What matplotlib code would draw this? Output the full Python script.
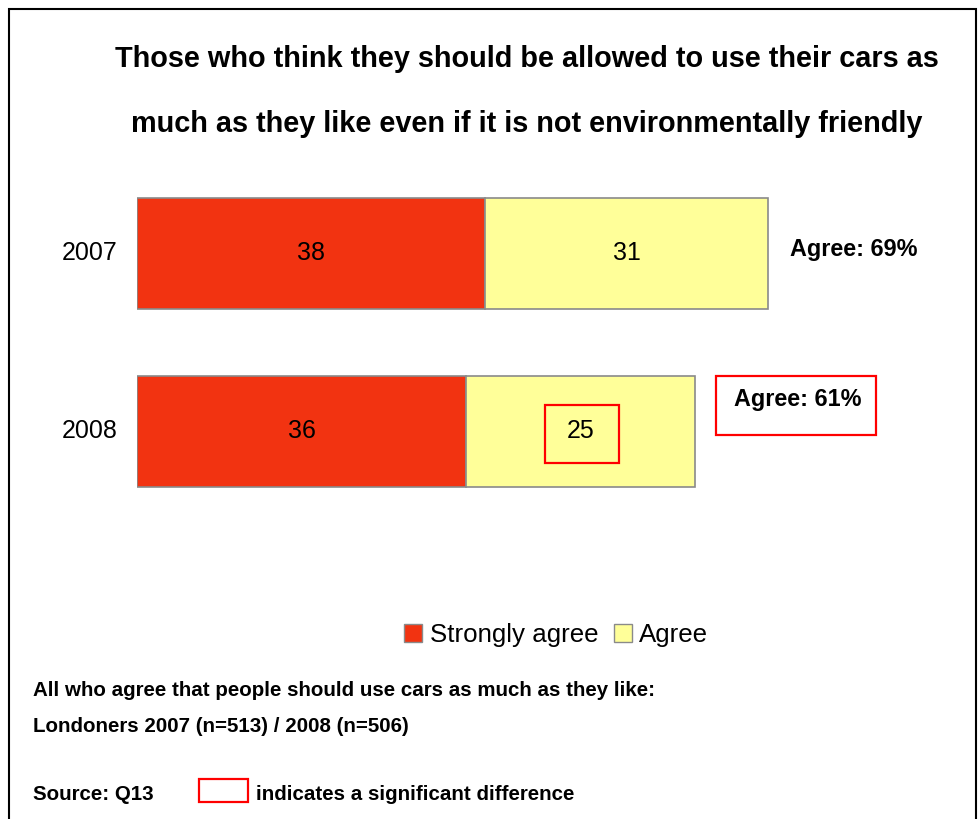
import matplotlib.pyplot as plt
from matplotlib import font_manager as fm
from matplotlib.patches import Rectangle, Patch
import os

# pick the regular-width Liberation Sans files explicitly (avoid the Narrow cut)
reg_path = bold_path = None
for p in fm.findSystemFonts():
    name = os.path.basename(p)
    if name == "LiberationSans-Regular.ttf":
        reg_path = p
    elif name == "LiberationSans-Bold.ttf":
        bold_path = p


def font(size, bold=False):
    path = bold_path if bold else reg_path
    if path:
        return fm.FontProperties(fname=path, size=size)
    return fm.FontProperties(family="DejaVu Sans", size=size, weight="bold" if bold else "normal")


years = ["2007", "2008"]
strongly_agree = [38, 36]
agree = [31, 25]
totals = [69, 61]
series_names = ["Strongly agree", "Agree"]
title_lines = ["Those who think they should be allowed to use their cars as",
               "much as they like even if it is not environmentally friendly"]
notes = ["All who agree that people should use cars as much as they like:",
         "Londoners 2007 (n=513) / 2008 (n=506)",
         "Source: Q13"]
sig_note = "indicates a significant difference"

RED = "#F23311"
YELLOW = "#FFFF99"
EDGE = "#8a8a8a"
W, H = 979, 819


def fx(x):
    return x / W


def fy(y):
    return 1 - y / H


fig = plt.figure(figsize=(W / 100, H / 100), dpi=100)

# axes: x=0 at pixel 137, ~9.15 px per unit
ax = fig.add_axes([fx(137), fy(520.5), (W - 137) / W, 356 / H])
ax.set_xlim(0, (W - 137) / 9.15)
ax.set_ylim(-0.5, 1.5)
ax.axis("off")

ypos = [1, 0]
bh = 0.62
ax.barh(ypos, strongly_agree, height=bh, color=RED, edgecolor=EDGE, linewidth=1.2)
ax.barh(ypos, agree, left=strongly_agree, height=bh, color=YELLOW, edgecolor=EDGE, linewidth=1.2)

for y, yr, s, a, t in zip(ypos, years, strongly_agree, agree, totals):
    ax.text(-2.1, y, yr, ha="right", va="center", fontproperties=font(18))
    ax.text(s / 2, y, str(s), ha="center", va="center", fontproperties=font(18))
    ax.text(s + a / 2, y, str(a), ha="center", va="center", fontproperties=font(18))

ax.text(totals[0] + 2.4, ypos[0] + 0.02, "Agree: %d%%" % totals[0], ha="left", va="center",
        fontproperties=font(16.8, True))
ax.text(totals[1] + 4.2, ypos[1] + 0.18, "Agree: %d%%" % totals[1], ha="left", va="center",
        fontproperties=font(16.8, True))


# significance boxes
def red_box(x0, y0, x1, y1):
    fig.add_artist(Rectangle((fx(x0), fy(y1)), (x1 - x0) / W, (y1 - y0) / H,
                             transform=fig.transFigure, fill=False, edgecolor="#FF0000", linewidth=1.6))


red_box(545, 405, 619, 463)
red_box(716, 376, 876, 435)
red_box(199, 779, 248, 802)

# title
fig.text(fx(527), fy(59), title_lines[0], ha="center", va="center", fontproperties=font(20.8, True))
fig.text(fx(527), fy(124), title_lines[1], ha="center", va="center", fontproperties=font(20.8, True))

# legend
handles = [Patch(facecolor=RED, edgecolor=EDGE), Patch(facecolor=YELLOW, edgecolor=EDGE)]
fig.legend(handles, series_names, loc="center", bbox_to_anchor=(fx(556), fy(635)), ncol=2,
           frameon=False, prop=font(18.6), handlelength=0.7, handleheight=0.7,
           handletextpad=0.3, columnspacing=0.6)

# footnotes
fig.text(fx(33), fy(691), notes[0], ha="left", va="center", fontproperties=font(14.8, True))
fig.text(fx(33), fy(727), notes[1], ha="left", va="center", fontproperties=font(14.8, True))
fig.text(fx(33), fy(794), notes[2], ha="left", va="center", fontproperties=font(14.8, True))
fig.text(fx(256), fy(794), sig_note, ha="left", va="center", fontproperties=font(14.8, True))

# outer frame
fig.add_artist(Rectangle((fx(9), fy(830)), (976 - 9) / W, (830 - 9) / H,
                         transform=fig.transFigure, fill=False, edgecolor="black", linewidth=1.5))

fig.savefig("out.png", dpi=100)
